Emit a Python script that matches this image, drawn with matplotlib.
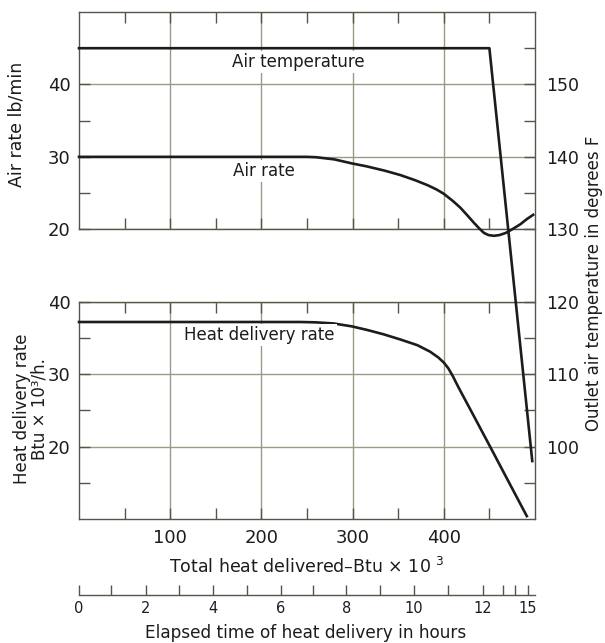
import matplotlib
matplotlib.use("Agg")
import matplotlib.pyplot as plt

# ---------------- data ----------------
# Total heat delivered (Btu x 10^3) -> Air rate (lb/min)
air_x = [0, 100, 200, 250, 260, 280, 299, 315, 335, 352, 368, 382, 392, 400, 410,
         418, 426, 433, 439, 444, 449, 455, 461, 468, 475, 484, 491, 498]
air_y = [30, 30, 30, 30, 29.95, 29.65, 29.1, 28.7, 28.1, 27.5, 26.8, 26.1, 25.5, 24.9, 23.9,
         23.0, 21.9, 20.9, 20.1, 19.5, 19.2, 19.1, 19.2, 19.5, 20.0, 20.7, 21.4, 22.0]

# Heat delivery rate (Btu x 10^3 / h)
heat_x = [0, 100, 200, 243, 260, 279, 299, 316, 334, 352, 371, 385, 394, 400, 405, 410,
          416, 433, 452, 470, 491]
heat_y = [37.2, 37.2, 37.2, 37.2, 37.15, 37.0, 36.6, 36.1, 35.5, 34.8, 34.0, 33.1, 32.3, 31.6, 30.8, 29.7,
          28.2, 24.2, 19.7, 15.4, 10.4]

# Outlet air temperature (deg F)
temp_x = [0, 450, 497]
temp_y = [155, 155, 98]

# Elapsed hours and the total heat delivered at each hour
hour_ticks = [0, 1, 2, 3, 4, 5, 6, 7, 8, 9, 10, 11, 12, 13, 14, 15]
hour_heat = [0, 35, 73, 110, 147, 184, 221, 257, 293, 330, 367, 405, 443, 465, 478, 492]
hour_labels = ["0", "", "2", "", "4", "", "6", "", "8", "", "10", "", "12", "", "", "15"]

heat_major = [100, 200, 300, 400]
heat_minor = [50, 150, 250, 350, 450]
air_ticks = [20, 30, 40]
air_minor = [25, 35]
rate_ticks = [20, 30, 40]
rate_minor = [15, 25, 35]
temp_ticks = [100, 110, 120, 130, 140, 150]
temp_minor = [95, 105, 115, 135, 145, 155]

# ---------------- style ----------------
plt.rcParams['font.family'] = ['DejaVu Sans']
INK = '#1c1c1c'
SPINE = '#55554a'
GRID = '#9a9a88'
LW_CURVE = 1.9
TL = 8.0  # tick length in points

W_PX, H_PX = 605, 643
fig = plt.figure(figsize=(W_PX / 100, H_PX / 100), dpi=100)

L = 79 / W_PX
R = 535 / W_PX
B = (H_PX - 519) / H_PX
T = (H_PX - 12) / H_PX
Wd = R - L
Ht = T - B

ax_t = fig.add_axes([L, B + Ht * 40 / 70, Wd, Ht * 30 / 70])
ax_b = fig.add_axes([L, B, Wd, Ht * 30 / 70])
ax_r = fig.add_axes([L, B, Wd, Ht])
ax_h = fig.add_axes([L, (H_PX - 595) / H_PX, Wd, 0.02])

for ax in (ax_t, ax_b, ax_r, ax_h):
    ax.patch.set_visible(False)
    ax.set_xlim(0, 500)
    for s in ax.spines.values():
        s.set_color(SPINE)
        s.set_linewidth(1.0)

# panels
def panel(ax, ylim, yt, ym, labels_bottom):
    ax.set_ylim(*ylim)
    ax.spines['right'].set_visible(False)
    ax.set_yticks(yt)
    ax.set_yticks(ym, minor=True)
    ax.set_xticks(heat_major)
    ax.set_xticks(heat_minor, minor=True)
    ax.tick_params(axis='both', which='both', direction='in', length=TL,
                   width=1.0, color=SPINE, top=True, bottom=True,
                   left=True, right=False, labelsize=13, labelcolor=INK)
    ax.tick_params(axis='x', which='both', labelbottom=labels_bottom, pad=7)
    ax.tick_params(axis='y', which='both', pad=6)
    ax.grid(True, which='major', color=GRID, lw=1.0)
    ax.set_axisbelow(True)

panel(ax_t, (20, 50), air_ticks, air_minor, False)
panel(ax_b, (10, 40), rate_ticks, rate_minor, True)

# right temperature axis
ax_r.set_ylim(90, 160)
for side in ('left', 'top', 'bottom'):
    ax_r.spines[side].set_visible(False)
ax_r.set_xticks([])
ax_r.set_yticks(temp_ticks)
ax_r.set_yticks(temp_minor, minor=True)
ax_r.tick_params(axis='y', which='both', direction='in', length=TL, width=1.0,
                 color=SPINE, left=False, right=True, labelleft=False,
                 labelright=True, labelsize=12.5, labelcolor=INK, pad=8)

# curves
ax_t.plot(air_x, air_y, color=INK, lw=LW_CURVE, solid_joinstyle='round', clip_on=False, zorder=3)
ax_b.plot(heat_x, heat_y, color=INK, lw=LW_CURVE, solid_joinstyle='round', clip_on=False, zorder=3)
ax_r.plot(temp_x, temp_y, color=INK, lw=LW_CURVE, solid_joinstyle='round', clip_on=False, zorder=3)

bb = dict(facecolor='white', edgecolor='none', pad=1.5)
ax_t.text(241, 43.1, "Air temperature", ha='center', va='center', fontsize=12, color=INK, bbox=bb, zorder=4)
ax_t.text(203, 28.0, "Air rate", ha='center', va='center', fontsize=12, color=INK, bbox=bb, zorder=4)
ax_b.text(198, 35.4, "Heat delivery rate", ha='center', va='center', fontsize=12, color=INK, bbox=bb, zorder=4)

# hours axis
for side in ('left', 'top', 'right'):
    ax_h.spines[side].set_visible(False)
ax_h.set_ylim(0, 1)
ax_h.set_yticks([])
ax_h.set_xticks(hour_heat)
ax_h.set_xticklabels(hour_labels)
ax_h.tick_params(axis='x', direction='in', length=7, width=1.0, color=SPINE,
                 labelsize=10.5, labelcolor=INK, pad=4)

# labels
fig.text(17 / W_PX, 1 - 124 / H_PX, "Air rate lb/min", rotation=90,
         ha='center', va='center', fontsize=12.5, color=INK)
fig.text(31 / W_PX, 1 - 409 / H_PX, "Heat delivery rate\nBtu × 10³/h.", rotation=90,
         ha='center', va='center', fontsize=12, color=INK, linespacing=1.0,
         multialignment='center')
fig.text(594 / W_PX, 1 - 283 / H_PX, "Outlet air temperature in degrees F", rotation=90,
         ha='center', va='center', fontsize=12, color=INK)
fig.text(307 / W_PX, 1 - 567 / H_PX, "Total heat delivered–Btu × 10 $^3$",
         ha='center', va='center', fontsize=12.5, color=INK)
fig.text(306 / W_PX, 1 - 633 / H_PX, "Elapsed time of heat delivery in hours",
         ha='center', va='center', fontsize=12.2, color=INK)

fig.savefig("out.png", dpi=100, facecolor='white')
